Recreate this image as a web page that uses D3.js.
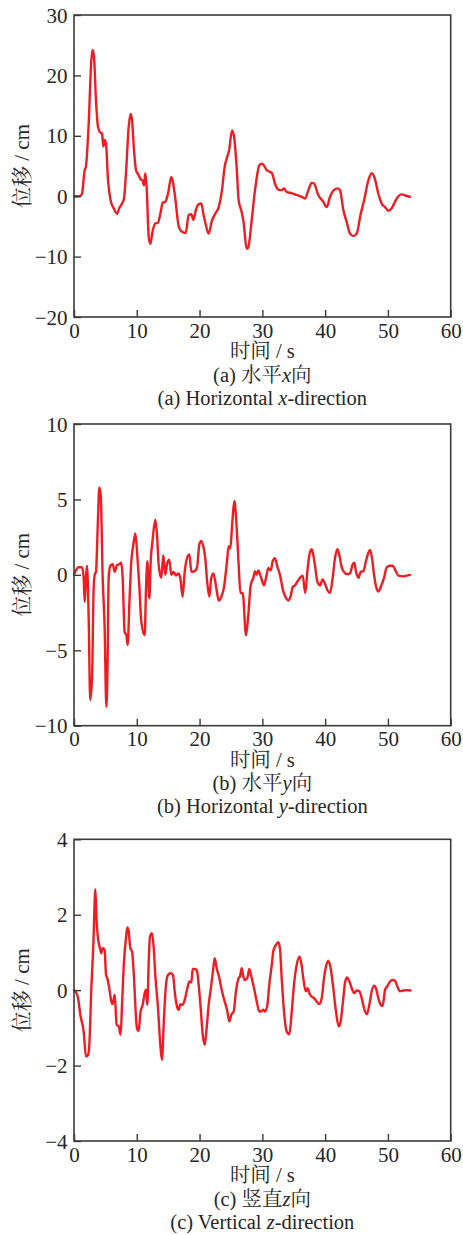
<!DOCTYPE html>
<html>
<head>
<meta charset="utf-8">
<script src="https://cdn.jsdelivr.net/npm/d3@7/dist/d3.min.js"></script>
<style>
  body { margin: 0; background: #fff; }
  svg { display: block; }
</style>
</head>
<body>
<svg id="chart" width="463" height="1235"></svg>
<script>
// Time axis ticks (s)
const timeTicks = [0, 10, 20, 30, 40, 50, 60];

// Displacement histories, [time (s), displacement (cm)]
const dispX = [
  [0,0],[0.5,0],[1.0,0.05],[1.27,0.4],[1.7,4.3],[1.9,4.9],[2.34,12],[2.76,22.5],[2.97,24.2],[3.19,23],
  [3.5,15.9],[3.82,11.5],[4.14,10.6],[4.46,10.4],[4.67,8.2],[4.88,9.3],[5.1,8.7],[5.42,2.6],[5.84,-0.7],
  [6.32,-2.0],[6.85,-2.9],[7.2,-2.0],[7.65,-1.2],[7.96,-0.4],[8.28,3.8],[8.71,11.5],[9.03,13.6],[9.24,12.6],
  [9.56,7.6],[9.88,4.3],[10.3,3.5],[10.6,2.8],[10.9,2.6],[11.15,1.8],[11.36,3.8],[11.57,1.5],[11.9,-6.7],
  [12.16,-7.9],[12.5,-5.9],[12.95,-4.5],[13.38,-4.4],[13.75,-2.9],[14.13,-1.1],[14.55,-0.9],[14.97,0.4],
  [15.5,3.2],[15.7,2.6],[16.1,-0.1],[16.7,-5.1],[17.2,-5.9],[17.8,-6.1],[18.27,-3.1],[18.7,-3.0],[19.0,-3.9],
  [19.43,-2.2],[19.86,-1.3],[20.28,-1.2],[20.6,-2.9],[20.9,-4.3],[21.45,-6.2],[21.98,-4.0],[22.5,-2.9],
  [23.05,-1.8],[23.57,1.0],[24.0,4.9],[24.4,6.5],[24.7,7.6],[25.17,10.9],[25.5,9.8],[25.9,4.9],[26.23,-0.7],
  [26.7,-2.6],[27.0,-4.2],[27.5,-8.7],[27.77,-8.4],[28.3,-4.0],[28.83,1.0],[29.52,5.1],[29.9,5.4],[30.26,5.1],
  [30.7,4.3],[31.1,4.1],[31.54,3.8],[32.0,2.1],[32.54,1.1],[33.08,1.0],[33.45,1.3],[33.88,0.7],[34.68,0.5],
  [35.47,0.2],[36.27,-0.1],[36.8,-0.4],[37.33,1.0],[37.86,2.2],[38.23,2.1],[38.9,0.2],[39.7,-0.9],[40.25,-1.8],
  [40.78,-0.1],[41.3,0.9],[41.94,1.3],[42.37,1.0],[42.9,-2.3],[43.44,-4.3],[43.96,-6.2],[44.5,-6.6],[45.03,-6.2],
  [45.67,-2.9],[46.2,-0.7],[46.88,2.6],[47.42,3.8],[47.95,2.8],[48.47,0.4],[49.0,-1.2],[49.54,-1.8],[50.07,-2.4],
  [50.6,-2.0],[51.13,-0.9],[51.66,0.0],[52.2,0.3],[53.0,0.05],[53.5,-0.1]
];

const dispY = [
  [0,0],[0.2,0.2],[0.74,0.5],[1.27,0.5],[1.54,-0.2],[1.7,-1.8],[1.9,-0.2],[2.07,0.6],[2.34,-2.9],[2.58,-8.3],
  [2.87,-6.9],[3.13,-0.9],[3.3,0],[3.5,0.2],[3.82,3.75],[4.03,5.8],[4.25,5.3],[4.57,-0.2],[4.88,-3.5],[5.15,-8.75],
  [5.35,-6.0],[5.52,-0.2],[5.79,0.6],[6.16,0.7],[6.48,0.2],[6.85,0.65],[7.2,0.7],[7.53,0.8],[7.75,-0.2],[8.07,-3.8],
  [8.34,-4.0],[8.55,-4.65],[8.81,-2.0],[9.13,0.9],[9.45,2.0],[9.77,2.75],[10.08,1.3],[10.4,-0.7],[10.72,-3.1],
  [11.26,-4.0],[11.47,-0.9],[11.68,0.9],[12.0,-1.55],[12.22,0.9],[12.54,2.4],[12.95,3.65],[13.22,2.65],[13.49,0.65],
  [13.9,-0.2],[14.22,1.3],[14.54,0],[14.86,0.8],[15.18,1.0],[15.5,0],[15.88,0.2],[16.25,-0.05],[16.57,0.1],
  [16.93,-0.2],[17.3,-1.45],[17.63,0.2],[18.0,1.1],[18.37,1.35],[18.7,0.2],[19.22,0.25],[19.6,0.5],[19.96,2.0],
  [20.28,2.25],[20.66,1.75],[20.91,1.1],[21.2,-0.4],[21.55,-1.45],[21.87,-0.2],[22.2,0.1],[22.6,-0.7],[23.05,-1.7],
  [23.46,-1.45],[23.9,-0.8],[24.37,0.9],[24.64,1.9],[24.9,1.75],[25.17,3.2],[25.53,4.9],[25.85,3.55],[26.23,0.65],
  [26.5,-1.2],[26.87,-1.2],[27.4,-4.0],[27.72,-2.9],[28.14,-0.7],[28.56,-0.2],[28.83,0.25],[29.1,0],[29.36,0.3],
  [29.74,-0.1],[30.26,-0.7],[30.58,-0.2],[30.95,0.45],[31.33,0.3],[31.65,0.9],[32.0,1.1],[32.38,0.55],[32.8,0],
  [33.34,-1.1],[33.88,-1.6],[34.14,-1.7],[34.52,-1.4],[34.84,-0.8],[35.2,-0.7],[35.57,-0.45],[36.0,-0.2],
  [36.42,-0.05],[36.84,-1.2],[37.16,0.2],[37.48,1.3],[37.86,1.7],[38.12,1.3],[38.44,0.45],[38.76,-0.45],
  [39.18,-0.7],[39.6,-0.3],[39.98,-0.6],[40.35,-1.0],[40.78,-1.2],[41.2,-0.2],[41.57,1.1],[41.94,1.7],[42.26,1.3],
  [42.64,0.5],[43.0,0.2],[43.44,0.05],[43.96,0.1],[44.39,0.7],[44.65,0.8],[44.92,0.2],[45.3,-0.2],[45.66,0.2],
  [46.1,0.25],[46.5,0.9],[46.88,1.45],[47.15,1.65],[47.47,1.1],[47.79,0],[48.2,-0.9],[48.47,-1.1],[49.0,-0.65],
  [49.38,-0.2],[49.8,0.5],[50.33,0.6],[50.76,0.6],[51.13,0.35],[51.66,-0.05],[52.45,-0.1],[53.0,-0.05],[53.5,0]
];

const dispZ = [
  [0,0],[0.2,-0.03],[0.64,-0.2],[1.0,-0.65],[1.54,-1.1],[1.9,-1.76],[2.23,-1.72],[2.44,-1.45],[2.76,0.05],
  [3.08,1.2],[3.4,2.68],[3.6,1.82],[3.82,1.38],[4.14,1.11],[4.35,0.98],[4.57,1.11],[4.88,1.07],[5.1,0.4],
  [5.3,0.32],[5.62,0.05],[5.94,-0.3],[6.16,-0.37],[6.48,-0.12],[6.8,-0.92],[7.12,-0.96],[7.43,-1.18],[7.65,-0.39],
  [7.96,0.76],[8.28,1.38],[8.49,1.66],[8.71,1.56],[8.97,1.11],[9.24,1.03],[9.56,0.32],[9.88,-0.74],[10.09,-1.05],
  [10.3,-1.08],[10.6,-0.57],[10.94,-0.39],[11.26,-0.08],[11.47,0.01],[11.68,-0.39],[11.9,0.76],[12.1,1.42],
  [12.42,1.51],[12.7,1.11],[12.95,0.4],[13.38,-0.48],[13.75,-1.45],[14.0,-1.85],[14.33,-0.74],[14.65,0.14],
  [14.97,0.4],[15.4,0.45],[15.77,0.4],[16.04,-0.04],[16.4,-0.43],[16.68,-0.52],[16.93,-0.37],[17.3,-0.39],
  [17.63,-0.26],[18.0,0.01],[18.37,0.23],[18.7,0.21],[18.9,0.56],[19.33,0.56],[19.6,0.5],[19.86,0.14],
  [20.18,-0.48],[20.5,-1.18],[20.82,-1.45],[21.13,-1.0],[21.45,-0.39],[21.87,0.14],[22.25,0.67],[22.4,0.85],
  [22.73,0.58],[23.15,0.32],[23.57,-0.03],[24.0,-0.3],[24.37,-0.52],[24.74,-0.83],[25.06,-0.65],[25.43,-0.57],
  [25.8,-0.03],[26.23,0.32],[26.44,0.36],[26.7,0.58],[26.97,0.36],[27.24,0.27],[27.6,0.32],[27.92,0.56],
  [28.3,0.32],[28.67,0.05],[29.1,-0.3],[29.52,-0.57],[29.9,-0.55],[30.16,-0.52],[30.42,-0.57],[30.8,-0.39],
  [31.1,0.14],[31.5,0.67],[31.74,1.03],[32.17,1.2],[32.54,1.27],[32.8,1.11],[33.08,0.32],[33.45,-0.57],
  [33.88,-1.1],[34.3,-1.17],[34.68,-0.57],[35.04,0.14],[35.47,0.67],[35.9,0.89],[36.16,0.76],[36.52,0.32],
  [36.9,-0.03],[37.22,0.05],[37.48,-0.08],[37.86,-0.17],[38.23,-0.21],[38.66,-0.3],[39.08,-0.37],[39.46,-0.21],
  [39.82,0.32],[40.14,0.63],[40.5,0.78],[40.88,0.58],[41.3,0.05],[41.73,-0.57],[42.16,-0.96],[42.47,-0.83],
  [42.9,-0.21],[43.2,0.23],[43.53,0.34],[43.86,0.23],[44.24,0.05],[44.6,-0.08],[45.03,-0.01],[45.44,-0.03],
  [45.82,-0.21],[46.2,-0.48],[46.62,-0.64],[47.04,-0.39],[47.42,-0.03],[47.8,0.12],[48.1,0.05],[48.47,-0.21],
  [48.87,-0.39],[49.17,-0.42],[49.54,0.01],[49.9,0.1],[50.33,0.23],[50.76,0.27],[51.13,0.25],[51.5,0.1],
  [51.9,-0.03],[52.45,-0.01],[53.0,0],[53.6,-0.01]
];

// Value axis ranges and ticks (cm)
const domainX = [-20, 30], ticksX = [-20, -10, 0, 10, 20, 30];
const domainY = [-10, 10], ticksY = [-10, -5, 0, 5, 10];
const domainZ = [-4, 4],   ticksZ = [-4, -2, 0, 2, 4];

// Caption texts
const yTitle = "位移 / cm";
const xTitle = "时间 / s";
const captions = [
  { cn: ["(a) 水平", "x", "向"], en: ["(a) Horizontal ", "x", "-direction"] },
  { cn: ["(b) 水平", "y", "向"], en: ["(b) Horizontal ", "y", "-direction"] },
  { cn: ["(c) 竖直", "z", "向"], en: ["(c) Vertical ", "z", "-direction"] }
];

// ---- layout ----
const left = 74, right = 450.7;
const layout = [
  { top: 15,    bottom: 317 },
  { top: 424,   bottom: 725.7 },
  { top: 839.3, bottom: 1141 }
];
const series = [
  { data: dispX, domain: domainX, ticks: ticksX },
  { data: dispY, domain: domainY, ticks: ticksY },
  { data: dispZ, domain: domainZ, ticks: ticksZ }
];

const FONT = "'Liberation Serif', 'Times New Roman', 'Noto Serif CJK SC', 'Noto Sans CJK SC', serif";
const INK = "#262626";
const AXIS = "#3a3a3a";
const RED = "#f01c22";
const FS = 21;     // tick labels and y title
const FS_CAP = 20.5; // stacked captions under each panel

const svg = d3.select("#chart");
svg.append("rect").attr("width", 463).attr("height", 1235).attr("fill", "#fff");

const fmt = d => d < 0 ? "\u2212" + Math.abs(d) : String(d);

series.forEach((s, i) => {
  const L = layout[i];
  const x = d3.scaleLinear().domain([0, 60]).range([left, right]);
  const y = d3.scaleLinear().domain(s.domain).range([L.bottom, L.top]);
  const g = svg.append("g");

  // data curve
  g.append("path")
    .datum(s.data)
    .attr("fill", "none")
    .attr("stroke", RED)
    .attr("stroke-width", 2.4)
    .attr("stroke-linejoin", "round")
    .attr("stroke-linecap", "round")
    .attr("d", d3.line().x(d => x(d[0])).y(d => y(d[1])).curve(d3.curveMonotoneX));

  // bottom axis: inward ticks
  const xa = g.append("g")
    .attr("transform", `translate(0,${L.bottom})`)
    .call(d3.axisBottom(x).tickValues(timeTicks).tickSize(-7).tickPadding(0).tickFormat(fmt));
  xa.select(".domain").remove();
  xa.selectAll(".tick line").attr("stroke", AXIS).attr("stroke-width", 1.4);
  xa.selectAll(".tick text")
    .attr("y", 20.5).attr("dy", null)
    .attr("fill", INK).attr("font-family", FONT).attr("font-size", FS);

  // left axis: inward ticks
  const ya = g.append("g")
    .attr("transform", `translate(${left},0)`)
    .call(d3.axisLeft(y).tickValues(s.ticks).tickSize(-7).tickPadding(0).tickFormat(fmt));
  ya.select(".domain").remove();
  ya.selectAll(".tick line").attr("stroke", AXIS).attr("stroke-width", 1.4);
  ya.selectAll(".tick text")
    .attr("x", -6.5).attr("dy", "0.34em")
    .attr("fill", INK).attr("font-family", FONT).attr("font-size", FS);

  // frame
  g.append("rect")
    .attr("x", left).attr("y", L.top)
    .attr("width", right - left).attr("height", L.bottom - L.top)
    .attr("fill", "none").attr("stroke", AXIS).attr("stroke-width", 1.6);

  // y title
  g.append("text")
    .attr("transform", `translate(29,${(L.top + L.bottom) / 2}) rotate(-90)`)
    .attr("text-anchor", "middle")
    .attr("fill", INK).attr("font-family", FONT).attr("font-size", FS)
    .text(yTitle);

  const cx = (left + right) / 2;
  // x title
  g.append("text")
    .attr("x", cx).attr("y", L.bottom + 41)
    .attr("text-anchor", "middle")
    .attr("fill", INK).attr("font-family", FONT).attr("font-size", FS_CAP)
    .text(xTitle);

  // captions with italic axis letter
  const addCaption = (parts, yy) => {
    const t = g.append("text")
      .attr("x", cx).attr("y", yy)
      .attr("text-anchor", "middle")
      .attr("fill", INK).attr("font-family", FONT).attr("font-size", FS_CAP);
    t.append("tspan").text(parts[0]);
    t.append("tspan").attr("font-style", "italic").text(parts[1]);
    t.append("tspan").text(parts[2]);
  };
  addCaption(captions[i].cn, L.bottom + 64.5);
  addCaption(captions[i].en, L.bottom + 87.5);
});
</script>
</body>
</html>
